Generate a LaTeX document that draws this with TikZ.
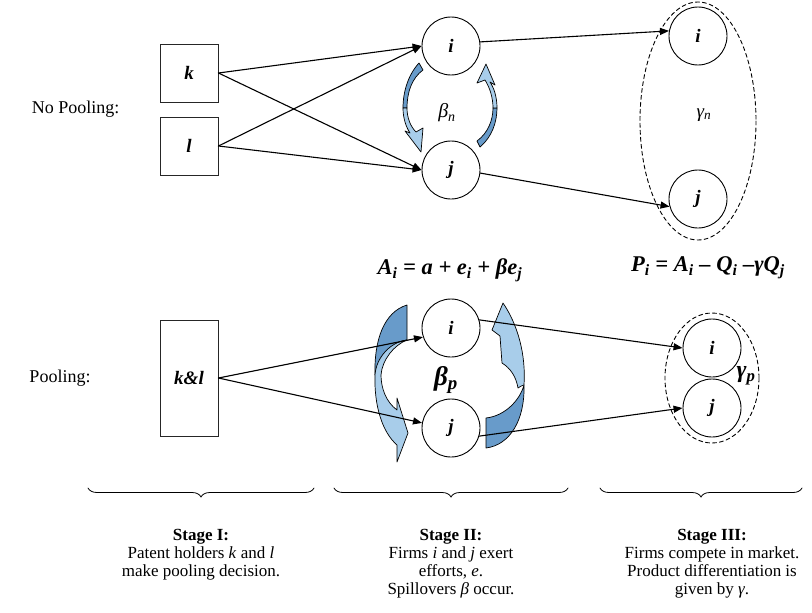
\documentclass[tikz,border=0pt]{standalone}
\usepackage{fontspec}
\setmainfont{Liberation Serif}
\usetikzlibrary{arrows.meta,decorations.pathreplacing}
\definecolor{swirllight}{RGB}{168,205,234}
\definecolor{swirldark}{RGB}{104,155,202}
\tikzset{
  firm/.style={circle,draw,fill=white,line width=0.9pt,minimum size=58pt,inner sep=0pt,
    font=\fontsize{19}{19}\selectfont\bfseries\itshape},
  holder/.style={rectangle,draw=black!85,line width=0.9pt,minimum width=58pt,minimum height=58pt,
    inner sep=0pt,font=\fontsize{19}{19}\selectfont\bfseries\itshape},
  link/.style={-{Triangle[length=9pt,width=7pt]},line width=1.1pt},
  market/.style={dash pattern=on 4pt off 3pt,line width=0.9pt},
  swirl/.style={draw=black,line width=0.7pt,line join=round},
  stage/.style={align=center,inner sep=0pt,font=\fontsize{17}{18}\selectfont},
  brc/.style={decorate,decoration={brace,amplitude=9pt,mirror},line width=0.8pt},
  lbl/.style={font=\fontsize{18}{18}\selectfont},
}
\begin{document}
\begin{tikzpicture}[x=1pt,y=-1pt,line cap=round]
\useasboundingbox (0,0) rectangle (812,613);

% spillover arrows, no pooling
\filldraw[swirl,fill=swirldark] (419,63) .. controls (408,75) and (403,92) .. (403,108)
  -- (407,108) .. controls (407,92) and (412,78) .. (423,70) -- cycle;
\filldraw[swirl,fill=swirllight] (403,108) .. controls (403,118) and (406,127) .. (410,133)
  -- (405,131) -- (421,152) -- (423,128) -- (416,132) .. controls (410,126) and (407,117) .. (407,108) -- cycle;
\filldraw[swirl,fill=swirldark] (480,147) .. controls (492,137) and (497,122) .. (497,108)
  -- (493,108) .. controls (493,120) and (488,133) .. (477,141) -- cycle;
\filldraw[swirl,fill=swirllight] (497,108) .. controls (497,97) and (494,88) .. (490,82)
  -- (495,85) -- (486,64) -- (477,83) -- (485,80) .. controls (490,88) and (493,98) .. (493,108) -- cycle;

% spillover arrows, pooling
\filldraw[swirl,fill=swirldark] (407,305) .. controls (384,312) and (374,340) .. (375,375)
  .. controls (378,360) and (390,342) .. (407,340) -- cycle;
\filldraw[swirl,fill=swirllight] (407,340) .. controls (390,342) and (376,358) .. (375,375)
  .. controls (374,405) and (382,432) .. (397,445) -- (397,462) -- (408,433) -- (397,398) -- (397,410)
  .. controls (386,402) and (381,388) .. (381,375) .. controls (382,360) and (394,345) .. (407,340) -- cycle;
\filldraw[swirl,fill=swirldark] (486,448) .. controls (510,445) and (525,420) .. (524,385)
  .. controls (520,400) and (505,416) .. (486,418) -- cycle;
\filldraw[swirl,fill=swirllight] (524,385) .. controls (526,355) and (518,325) .. (503,303)
  -- (492,330) -- (500,336) -- (502,363) .. controls (510,368) and (516,376) .. (518,388)
  .. controls (520,386) and (522,386) .. (524,385) -- cycle;

% patent holders
\node[holder] (k) at (189,73) {k};
\node[holder] (l) at (189,146) {l};
\node[holder,minimum height=116pt] (kl) at (189,378) {k\&l};
\node[lbl,anchor=east] (nopool) at (123,109) {No Pooling:};
\node[lbl] (pool) at (60,378) {Pooling:};

% firms
\node[firm] (ni2) at (451,46) {i};
\node[firm] (nj2) at (451,170) {j};
\node[firm] (ni3) at (698,36) {i};
\node[firm] (nj3) at (698,199) {j};
\node[firm] (pi2) at (451,328) {i};
\node[firm] (pj2) at (451,428) {j};
\node[firm] (pi3) at (712,348) {i};
\node[firm] (pj3) at (712,408) {j};

\draw[market] (698,121) ellipse [x radius=58, y radius=119];
\draw[market] (712,378) ellipse [x radius=47, y radius=65];

\draw[link] (k.east) -- (ni2.west);
\draw[link] (k.east) -- (nj2.west);
\draw[link] (l.east) -- (ni2.west);
\draw[link] (l.east) -- (nj2.west);
\draw[link] (ni2.8) -- (ni3.170);
\draw[link] (nj2.-6) -- (nj3.195);
\draw[link] (kl.east) -- (pi2.198);
\draw[link] (kl.east) -- (pj2.170);
\draw[link] (pi2.16) -- (pi3.west);
\draw[link] (pj2.-16) -- (pj3.west);

% spillover and differentiation labels
\node[font=\fontsize{20}{20}\selectfont] (bn) at (447,113) {\textit{β\textsubscript{n}}};
\node[font=\fontsize{19}{19}\selectfont] (gn) at (704,115) {\textit{γ\textsubscript{n}}};
\node[font=\fontsize{27}{27}\selectfont] (bp) at (446,380) {\textbf{\textit{β\textsubscript{p}}}};
\node[font=\fontsize{24}{24}\selectfont] (gp) at (746,376) {\textbf{\textit{γ\textsubscript{p}}}};

\node[font=\fontsize{22.5}{22.5}\selectfont] (eqa) at (450,270)
  {\textbf{\textit{A\textsubscript{i} = a + e\textsubscript{i} + βe\textsubscript{j}}}};
\node[font=\fontsize{22.5}{22.5}\selectfont] (eqp) at (708,268)
  {\textbf{\textit{P\textsubscript{i} = A\textsubscript{i} – Q\textsubscript{i} –γQ\textsubscript{j}}}};

% stages
\draw[brc] (88,488) -- (314,488);
\draw[brc] (334,488) -- (568,488);
\draw[brc] (600,488) -- (802,488);
\node[stage,anchor=north] (s1) at (201,529) {\textbf{Stage I:}\\Patent holders \textit{k} and \textit{l}\\make pooling decision.};
\node[stage,anchor=north] (s2) at (451,529) {\textbf{Stage II:}\\Firms \textit{i} and \textit{j} exert\\efforts, \textit{e}.\\Spillovers \textit{β} occur.};
\node[stage,anchor=north] (s3) at (712,529) {\textbf{Stage III:}\\Firms compete in market.\\Product differentiation is\\given by \textit{γ}.};
\end{tikzpicture}
\end{document}
